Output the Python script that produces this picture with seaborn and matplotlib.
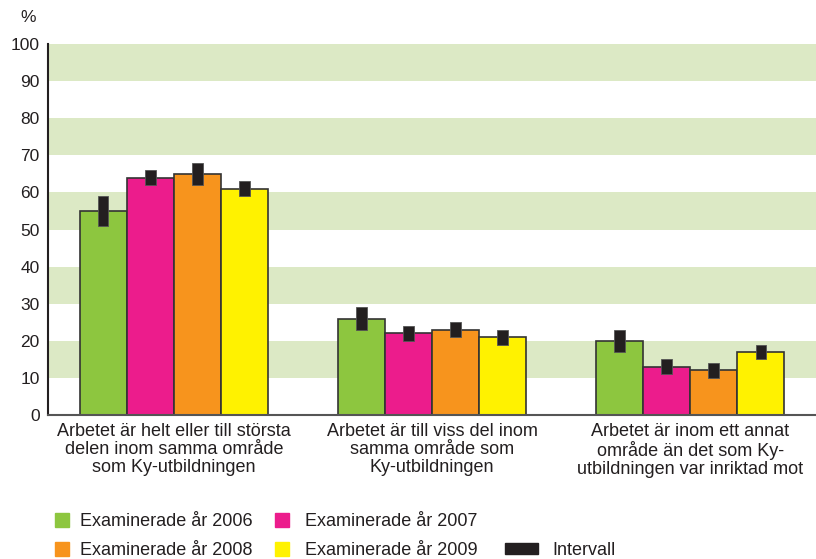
import numpy as np
import pandas as pd
import matplotlib
matplotlib.use("Agg")
import matplotlib.pyplot as plt
import matplotlib.patches as mpatches
import seaborn as sns

categories = [
    "Arbetet är helt eller till största\ndelen inom samma område\nsom Ky-utbildningen",
    "Arbetet är till viss del inom\nsamma område som\nKy-utbildningen",
    "Arbetet är inom ett annat\nområde än det som Ky-\nutbildningen var inriktad mot",
]
years = ["Examinerade år 2006", "Examinerade år 2007",
         "Examinerade år 2008", "Examinerade år 2009"]
values_2006 = [55, 26, 20]
values_2007 = [64, 22, 13]
values_2008 = [65, 23, 12]
values_2009 = [61, 21, 17]
low_2006 = [51, 23, 17]
high_2006 = [59, 29, 23]
low_2007 = [62, 20, 11]
high_2007 = [66, 24, 15]
low_2008 = [62, 21, 10]
high_2008 = [68, 25, 14]
low_2009 = [59, 19, 15]
high_2009 = [63, 23, 19]
interval_label = "Intervall"
colors = ["#8dc63f", "#ec1c8c", "#f7941d", "#fff200"]
yticks = list(range(0, 101, 10))

values = [values_2006, values_2007, values_2008, values_2009]
lows = [low_2006, low_2007, low_2008, low_2009]
highs = [high_2006, high_2007, high_2008, high_2009]

rows = []
for y, vals in zip(years, values):
    for c, v in zip(categories, vals):
        rows.append({"cat": c, "year": y, "val": v})
df = pd.DataFrame(rows)

sns.set_style("white")
plt.rcParams["font.family"] = ["Liberation Sans", "DejaVu Sans"]
text_color = "#231f20"

fig = plt.figure(figsize=(8.16, 5.59), dpi=100)
ax = fig.add_axes([48 / 816, 1 - 415 / 559, 1 - 48 / 816, (415 - 44) / 559])

# bands
for lo in range(10, 100, 20):
    ax.axhspan(lo, lo + 10, color="#dce9c5", lw=0, zorder=0)

sns.barplot(data=df, x="cat", y="val", hue="year", palette=colors,
            width=0.73, edgecolor="#333333", linewidth=1.2, errorbar=None,
            legend=False, ax=ax, zorder=2, saturation=1)

# intervals
for cont, lo_l, hi_l in zip(ax.containers, lows, highs):
    xs = [b.get_x() + b.get_width() / 2 for b in cont]
    ax.bar(xs, np.array(hi_l) - np.array(lo_l), bottom=lo_l, width=0.04,
           color=text_color, edgecolor="#555555", linewidth=0.6, zorder=3)

ax.set_xlim(-0.488, 2.488)
ax.set_ylim(0, 100)
ax.set_yticks(yticks)
ax.set_yticklabels([str(t) for t in yticks], fontsize=12.5, color=text_color)
ax.tick_params(axis="y", length=0, pad=6)
ax.tick_params(axis="x", length=0, pad=5.5)
ax.set_xticks(range(len(categories)))
ax.set_xticklabels(categories, fontsize=13, color=text_color, linespacing=1.1)
ax.set_xlabel("")
ax.set_ylabel("")
for s in ["top", "right"]:
    ax.spines[s].set_visible(False)
ax.spines["left"].set_color(text_color)
ax.spines["left"].set_linewidth(1.5)
ax.spines["bottom"].set_color("#555555")
ax.spines["bottom"].set_linewidth(1.5)
ax.set_facecolor("white")

fig.text(28 / 816, 1 - 17 / 559, "%", fontsize=12.5, color=text_color,
         ha="center", va="center")

# legends (three columns)
def col_legend(handles, labels, x_px, y_px, hl, hh, pad):
    leg = fig.legend(handles, labels, loc="upper left",
                     bbox_to_anchor=(x_px / 816, 1 - y_px / 559),
                     frameon=False, fontsize=13, handlelength=hl,
                     handleheight=hh, handletextpad=pad, borderpad=0,
                     borderaxespad=0, labelspacing=0.66)
    for t in leg.get_texts():
        t.set_color(text_color)
    return leg

h = [mpatches.Patch(color=c) for c in colors]
col_legend([h[0], h[2]], [years[0], years[2]], 55, 513, 0.78, 0.78, 0.6)
col_legend([h[1], h[3]], [years[1], years[3]], 275, 513, 0.78, 0.78, 0.9)
col_legend([mpatches.Patch(color=text_color)], [interval_label], 505, 542,
           1.85, 0.55, 0.8)

fig.savefig("out.png", dpi=100)
